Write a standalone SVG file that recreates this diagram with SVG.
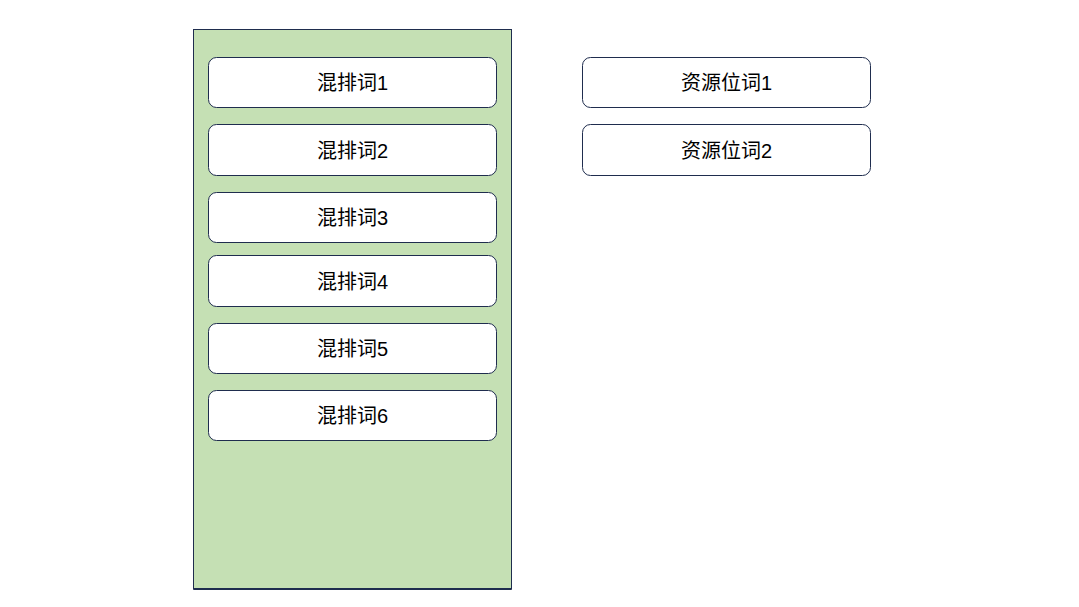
<svg xmlns="http://www.w3.org/2000/svg" width="1079" height="607" viewBox="0 0 1079 607">
<style>
.box{fill:#ffffff;stroke:#1f2d4e;stroke-width:1}
.t{font-family:"Liberation Sans","Noto Sans CJK SC",sans-serif;font-size:20px;fill:#000;text-anchor:middle;dominant-baseline:central}
</style>
<rect width="1079" height="607" fill="#ffffff"/>
<g id="container">
<rect x="193.5" y="29.5" width="318" height="559.5" fill="#c5e0b4" stroke="#1f2d4e" stroke-width="1"/>
<line x1="193.5" y1="589" x2="511.5" y2="589" stroke="#1f2d4e" stroke-width="2"/>
</g>
<g id="mix1"><rect class="box" x="208.5" y="57.5" width="288" height="50" rx="8"/><text class="t" x="352.5" y="83">混排词1</text></g>
<g id="mix2"><rect class="box" x="208.5" y="124.5" width="288" height="51" rx="8"/><text class="t" x="352.5" y="151">混排词2</text></g>
<g id="mix3"><rect class="box" x="208.5" y="192.5" width="288" height="50" rx="8"/><text class="t" x="352.5" y="218">混排词3</text></g>
<g id="mix4"><rect class="box" x="208.5" y="255.5" width="288" height="51" rx="8"/><text class="t" x="352.5" y="282">混排词4</text></g>
<g id="mix5"><rect class="box" x="208.5" y="323.5" width="288" height="50" rx="8"/><text class="t" x="352.5" y="349">混排词5</text></g>
<g id="mix6"><rect class="box" x="208.5" y="390.5" width="288" height="50" rx="8"/><text class="t" x="352.5" y="416">混排词6</text></g>
<g id="res1"><rect class="box" x="582.5" y="57.5" width="288" height="50" rx="8"/><text class="t" x="726.5" y="83">资源位词1</text></g>
<g id="res2"><rect class="box" x="582.5" y="124.5" width="288" height="51" rx="8"/><text class="t" x="726.5" y="151">资源位词2</text></g>
<g id="connectors"></g>
</svg>
